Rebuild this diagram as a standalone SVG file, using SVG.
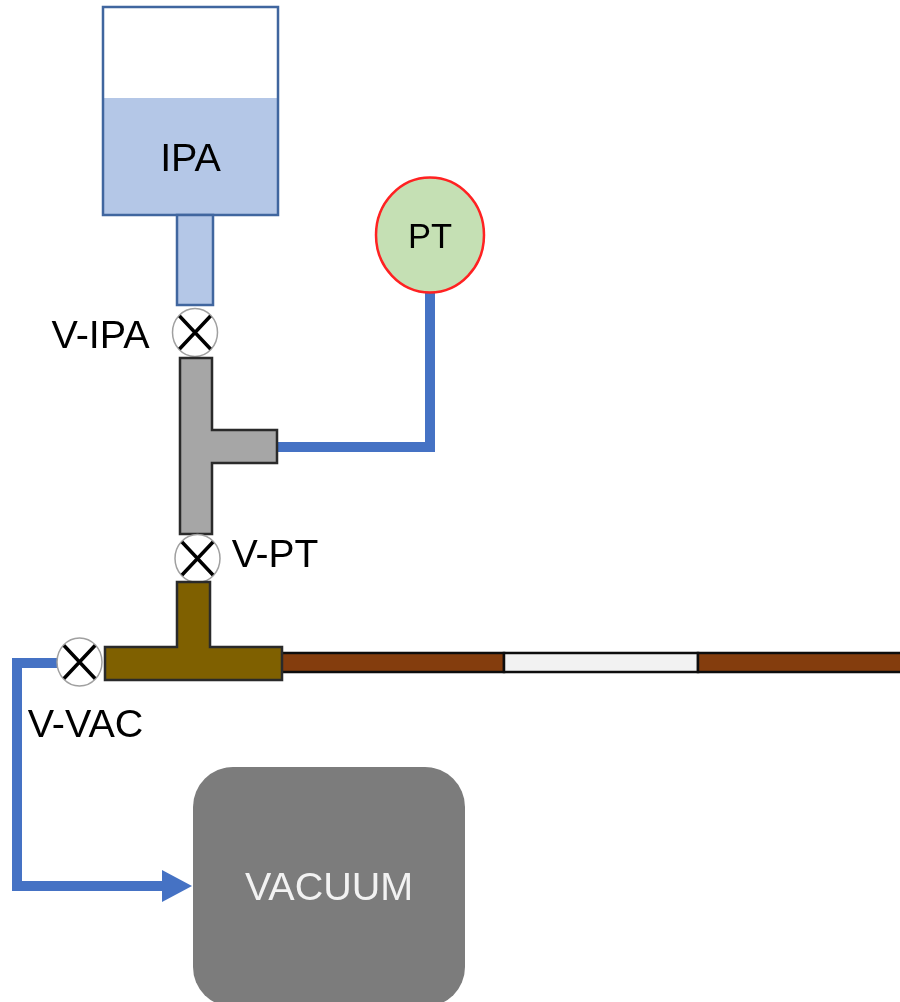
<svg xmlns="http://www.w3.org/2000/svg" width="900" height="1002" viewBox="0 0 900 1002">
<defs>
<filter id="soft" x="0" y="0" width="900" height="1002" filterUnits="userSpaceOnUse"><feGaussianBlur stdDeviation="0.55"/></filter>
<marker id="arrow" markerUnits="userSpaceOnUse" markerWidth="32" markerHeight="32" refX="2" refY="16" orient="auto"><path d="M2 0L32 16L2 32Z" fill="#4472c4"/></marker>
<g id="cross"><ellipse cx="0" cy="0" rx="22.5" ry="24" fill="#fff" stroke="#a0a0a0" stroke-width="1.500"/><path d="M-15.500 -16.500L15.500 16.500M15.500 -16.500L-15.500 16.500" fill="none" stroke="#000" stroke-width="3.500"/></g>
</defs>
<style>
text{font-family:"Liberation Sans",Arial,sans-serif;text-anchor:middle;fill:#000}
.tee{stroke:#2a2a2a;stroke-width:2.500}
.wire{fill:none;stroke:#4472c4;stroke-width:10}
.ipa{fill:#b4c7e7;stroke:#41669f;stroke-width:2.500}
.pipe{stroke:#111;stroke-width:2.500}
</style>
<rect width="900" height="1002" fill="#fff"/>
<g filter="url(#soft)">
<g id="connectors">
<path class="wire" d="M430 290V447H277"/>
<path class="wire" d="M60 663H17V886H162" marker-end="url(#arrow)"/>
</g>
<g id="tank">
<rect x="103" y="98" width="175" height="117" fill="#b4c7e7"/>
<rect x="103" y="7" width="175" height="208" fill="none" stroke="#41669f" stroke-width="2.500"/>
<rect class="ipa" x="177" y="215" width="36" height="90"/>
<text x="190.500" y="171" font-size="39.500">IPA</text>
</g>
<g id="pt">
<ellipse cx="430" cy="235" rx="54" ry="57.500" fill="#c5e0b4" stroke="#ff2020" stroke-width="2.500"/>
<text x="430" y="248" font-size="34.500">PT</text>
</g>
<g id="v-ipa">
<use href="#cross" x="195" y="332.500"/>
<text x="100.500" y="348" font-size="39.500">V-IPA</text>
</g>
<g id="grey-tee">
<path class="tee" fill="#a6a6a6" d="M180 358H212V430H277V463H212V534H180Z"/>
</g>
<g id="v-pt">
<use href="#cross" x="197.500" y="558.500"/>
<text x="275" y="567" font-size="39">V-PT</text>
</g>
<g id="pipe">
<rect class="pipe" x="280" y="653" width="224" height="19" fill="#843c0c"/>
<rect class="pipe" x="504" y="653" width="194" height="19" fill="#f2f2f2"/>
<rect class="pipe" x="698" y="653" width="204" height="19" fill="#843c0c"/>
</g>
<g id="brown-tee">
<path class="tee" fill="#7f6000" d="M177 582H210V647H282V680H105V647H177Z"/>
</g>
<g id="v-vac">
<use href="#cross" x="79.500" y="662"/>
<text x="85.500" y="737" font-size="39.500">V-VAC</text>
</g>
<g id="vacuum">
<rect x="193" y="767" width="272" height="240" rx="40" ry="40" fill="#7b7b7b"/>
<text x="329" y="900" font-size="39.500" style="fill:#f2f2f2">VACUUM</text>
</g>
</g>
</svg>
